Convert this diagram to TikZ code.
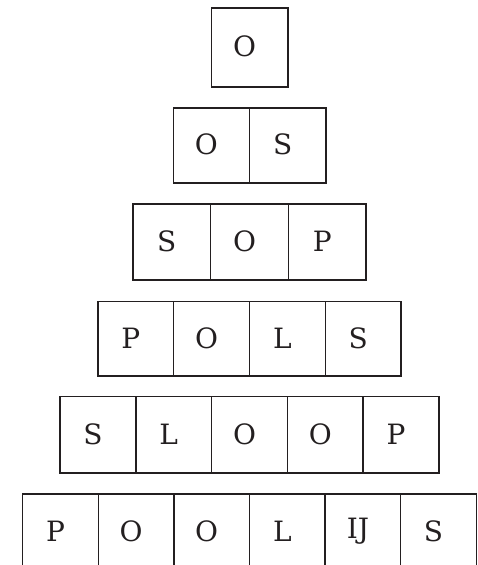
\documentclass[tikz,border=0pt]{standalone}
\usepackage{fontspec}
\setmainfont{DejaVu Serif}
\definecolor{ink}{HTML}{231F20}
\begin{document}
\begin{tikzpicture}[x=1pt,y=-1pt,
  cell/.style={draw=ink, line width=1.5pt, inner sep=0pt, rectangle},
  letter/.style={text=ink, font=\fontsize{28}{30}\selectfont, inner sep=0pt}]
\useasboundingbox (0,0) rectangle (477,565);
\clip (0,0) rectangle (477,565);
\foreach \row/\n/\yt/\h/\w/\ls in {
  1/1/8/79/76.5/{O},
  2/2/108/75/76.25/{O,S},
  3/3/204/76/77.7/{S,O,P},
  4/4/301.7/74.3/75.8/{P,O,L,S},
  5/5/396.7/76.3/75.8/{S,L,O,O,P},
  6/6/494/76/75.6/{P,O,O,L,IJ,S}}
{
  \foreach \lt [count=\i] in \ls {
    \node[cell, minimum width=\w pt, minimum height=\h pt] (c\row-\i)
      at ({249.5+(\i-(\n+1)/2)*\w}, {\yt+\h/2}) {};
    \node[letter] (t\row-\i) at ([xshift=-5pt,yshift=1pt]c\row-\i.center) {\lt};
  }
}
\end{tikzpicture}
\end{document}
